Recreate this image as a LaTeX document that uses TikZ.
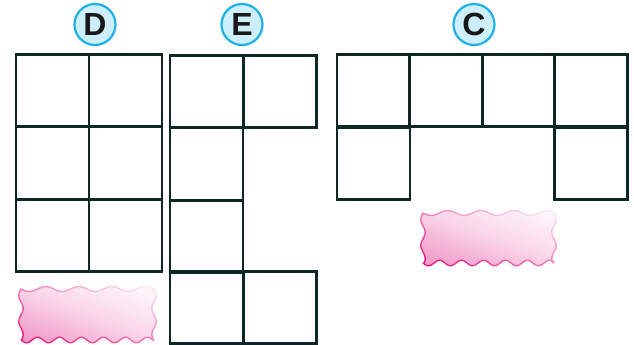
\documentclass[tikz,border=0pt]{standalone}
\usepackage{fontspec}
\setmainfont{Liberation Sans}
\definecolor{gridc}{HTML}{0D2626}
\definecolor{ringc}{HTML}{1DB0EA}
\definecolor{ringfill}{HTML}{CDEEFB}
\definecolor{deeppink}{HTML}{E8137E}
\definecolor{pinkfill}{HTML}{F092C4}
\tikzset{
  cell/.style={draw=gridc, line width=2.7pt, minimum width=72.8pt, minimum height=72.6pt, inner sep=0pt, outer sep=0pt},
  badge/.style={circle, draw=ringc, fill=ringfill, line width=2.2pt, minimum size=41pt, inner sep=0pt,
    font=\fontsize{32}{32}\selectfont\bfseries, text=black!90},
  blobline/.style={line width=1.4pt, line cap=round}
}
% wavy blob: x0, y0, w, h
\newcommand{\blobpath}[4]{%
  plot[domain=0:#3, samples=60, variable=\t] ({#1+\t},{#2+2.5*sin(\t/33*360)})
  -- plot[domain=0:#4, samples=25, variable=\t] ({#1+#3+2.2*sin(\t/26*360)},{#2+\t})
  -- plot[domain=0:#3, samples=70, variable=\t] ({#1+#3-\t},{#2+#4+2.8*sin((#3-\t)/22*360)})
  -- plot[domain=0:#4, samples=25, variable=\t] ({#1-2.2*sin((#4-\t)/26*360)},{#2+#4-\t})
  -- cycle}
\newcommand{\blobshade}[4]{%
  \begin{scope}
    \clip \blobpath{#1}{#2}{#3}{#4};
    \begin{scope}[shift={(#1,#2+#4)}, rotate=69]
      \fill[pinkfill] (-60,-250) rectangle (-6,250);
      \foreach \k in {0,...,39}{%
        \pgfmathsetmacro{\ua}{-6+\k*2.7}%
        \pgfmathsetmacro{\ub}{-6+\k*2.7+3.1}%
        \pgfmathtruncatemacro{\m}{ifthenelse(\k<20, 100-120*\k/39, 80-80*\k/39)}%
        \fill[color=pinkfill!\m!white] (\ua,-250) rectangle (\ub,250);
      }%
    \end{scope}
  \end{scope}}
\newcommand{\blobborder}[4]{%
  \foreach \i in {0,...,13}{%
    \pgfmathsetmacro{\ta}{#3*\i/14}%
    \pgfmathsetmacro{\tb}{#3*(\i+1)/14}%
    \pgfmathtruncatemacro{\mb}{10+90*(1-0.5*((\i+0.5)/14))}%
    \pgfmathtruncatemacro{\mt}{10+90*(0.5-0.5*((\i+0.5)/14))}%
    \draw[blobline, color=deeppink!\mb!white] plot[domain=\ta:\tb, samples=8, variable=\t] ({#1+\t},{#2+#4+2.8*sin(\t/22*360)});
    \draw[blobline, color=deeppink!\mt!white] plot[domain=\ta:\tb, samples=8, variable=\t] ({#1+\t},{#2+2.5*sin(\t/33*360)});
  }%
  \foreach \i in {0,...,5}{%
    \pgfmathsetmacro{\ta}{#4*\i/6}%
    \pgfmathsetmacro{\tb}{#4*(\i+1)/6}%
    \pgfmathtruncatemacro{\ml}{10+90*(1-0.5*(1-(\i+0.5)/6))}%
    \pgfmathtruncatemacro{\mr}{10+90*(0.5-0.5*(1-(\i+0.5)/6))}%
    \draw[blobline, color=deeppink!\ml!white] plot[domain=\ta:\tb, samples=8, variable=\t] ({#1-2.2*sin(\t/26*360)},{#2+\t});
    \draw[blobline, color=deeppink!\mr!white] plot[domain=\ta:\tb, samples=8, variable=\t] ({#1+#3+2.2*sin(\t/26*360)},{#2+\t});
  }%
}
\begin{document}
\begin{tikzpicture}[x=1pt,y=-1pt]
\useasboundingbox (0,0) rectangle (634,345);

% badges
\node[badge] (labD) at (95,24.5) {D};
\node[badge] (labE) at (242,24.5) {E};
\node[badge] (labC) at (474,24.5) {C};

% D grid
\node[cell] (d11) at (52.5,90.5) {};
\node[cell] (d12) at (125.5,90.5) {};
\node[cell] (d21) at (52.5,163) {};
\node[cell] (d22) at (125.5,163) {};
\node[cell] (d31) at (52.5,235.5) {};
\node[cell] (d32) at (125.5,235.5) {};

% E shape
\node[cell] (e11) at (206.5,91.5) {};
\node[cell] (e12) at (280,91.5) {};
\node[cell] (e21) at (206.5,164) {};
\node[cell] (e31) at (206.5,236.5) {};
\node[cell] (e41) at (206.5,307.5) {};
\node[cell] (e42) at (280,307.5) {};

% C shape
\node[cell] (c11) at (373.5,90.5) {};
\node[cell] (c12) at (446,90.5) {};
\node[cell] (c13) at (518.5,90.5) {};
\node[cell] (c14) at (591,90.5) {};
\node[cell] (c21) at (373.5,163.5) {};
\node[cell] (c24) at (591,163.5) {};

% pink blobs
\blobshade{21}{289}{133}{51}
\blobborder{21}{289}{133}{51}
\blobshade{423}{213}{131}{50}
\blobborder{423}{213}{131}{50}
\end{tikzpicture}
\end{document}
